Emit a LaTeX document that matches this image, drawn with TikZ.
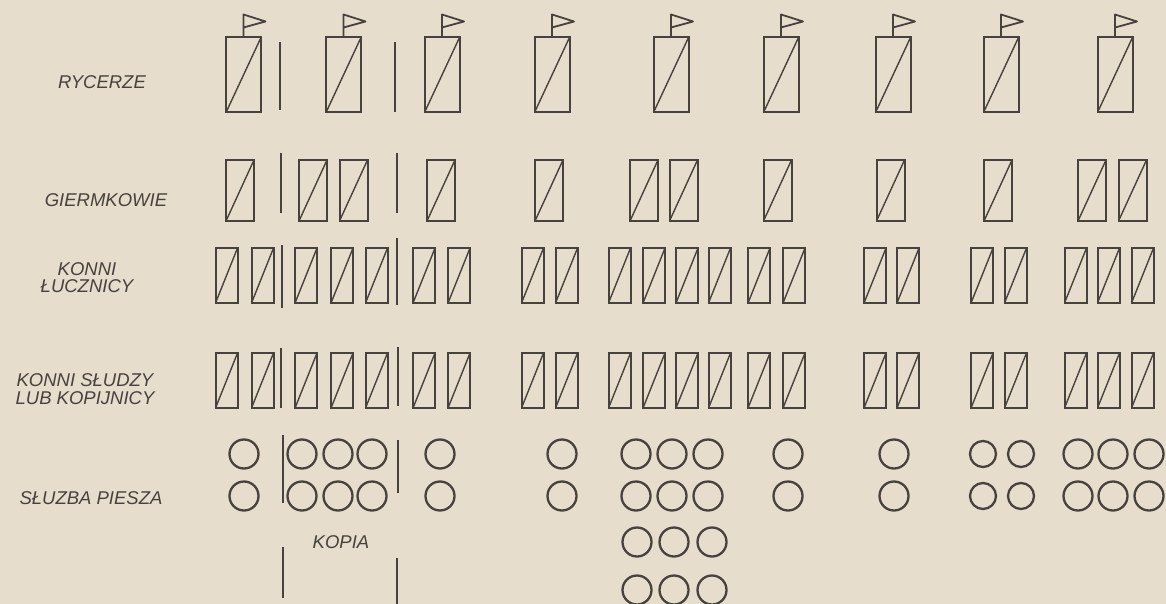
\documentclass[tikz,border=0pt]{standalone}
\usepackage{fontspec}
\setmainfont{Liberation Sans}
\definecolor{ink}{RGB}{72,66,60}
\definecolor{paper}{RGB}{230,221,205}
\begin{document}
\begin{tikzpicture}[x=1pt,y=-1pt,
  slash/.style={draw=ink, line width=2pt, inner sep=0pt, outer sep=0pt,
    path picture={\draw[ink,line width=1.4pt] (path picture bounding box.south west) -- (path picture bounding box.north east);}},
  knight/.style={slash, minimum width=35pt, minimum height=75pt},
  squire/.style={slash, minimum width=28pt, minimum height=61pt},
  rider/.style={slash, minimum width=22pt, minimum height=55pt},
  foot/.style={circle, draw=ink, line width=2.3pt, minimum size=29pt, inner sep=0pt},
  smallfoot/.style={foot, minimum size=26pt},
  divider/.style={draw=ink, line width=1.8pt},
  flag/.style={draw=ink, line width=1.8pt, line join=round},
  lbl/.style={font=\fontsize{18.5}{18}\selectfont\itshape, text=ink, align=center, inner sep=0pt}]
\useasboundingbox (0,0) rectangle (1166,604);
\fill[paper] (0,0) rectangle (1166,604);

% labels
\node[lbl] (lr) at (102,82) {RYCERZE};
\node[lbl] (lg) at (106,200) {GIERMKOWIE};
\node[lbl] (lk) at (87,278) {KONNI\\[-1pt]ŁUCZNICY};
\node[lbl] (ls) at (85,389) {KONNI SŁUDZY\\[0pt]LUB KOPIJNICY};
\node[lbl] (lp) at (91,498) {SŁUZBA PIESZA};
\node[lbl] (lkop) at (341,542) {KOPIA};

% knights with flags
\foreach \x [count=\i] in {243.5,343.5,442,552,671,781,893,1001,1115} {
  \node[knight] (k\i) at (\x,75) {};
  \draw[flag] (k\i.north) -- ++(0,-23) -- ++(22,7) -- ++(-22,6);
}

% squires
\foreach \x [count=\i] in {240,313,353.5,441,549,644,683.5,777.5,890.5,998,1092,1132.5} {
  \node[squire] (s\i) at (\x,190.5) {};
}

% mounted archers and mounted servants
\foreach \x [count=\i] in {226.5,262.5,306,342,376.5,424,459,532.5,566.5,619.5,654,687,719.5,759,794,875,908,982,1015.5,1075.5,1108.5,1142.5} {
  \node[rider] (a\i) at (\x,275.5) {};
  \node[rider] (b\i) at (\x,380.5) {};
}

% foot service
\foreach \x [count=\i] in {244,302,338,372,440,562,636,672,708,788,894,1078,1113,1149} {
  \node[foot] (p\i) at (\x,454) {};
  \node[foot] (q\i) at (\x,496) {};
}
\node[smallfoot] (p15) at (983,454) {};
\node[smallfoot] (p16) at (1021,454) {};
\node[smallfoot] (q15) at (983,496) {};
\node[smallfoot] (q16) at (1021,496) {};
\foreach \x [count=\i] in {637,674,712} {
  \node[foot] (t\i) at (\x,542) {};
  \node[foot] (u\i) at (\x,590) {};
}

% dividers of the first lance (kopia)
\draw[divider] (280,42) -- (280,110);
\draw[divider] (395,42) -- (395,112);
\draw[divider] (281,153) -- (281,213);
\draw[divider] (397,153) -- (397,213);
\draw[divider] (282,245) -- (282,308);
\draw[divider] (397,238) -- (397,305);
\draw[divider] (281,348) -- (281,408);
\draw[divider] (398,347) -- (398,406);
\draw[divider] (283,435) -- (283,503);
\draw[divider] (398,440) -- (398,493);
\draw[divider] (283,547) -- (283,598);
\draw[divider] (397,558) -- (397,604);
\end{tikzpicture}
\end{document}
